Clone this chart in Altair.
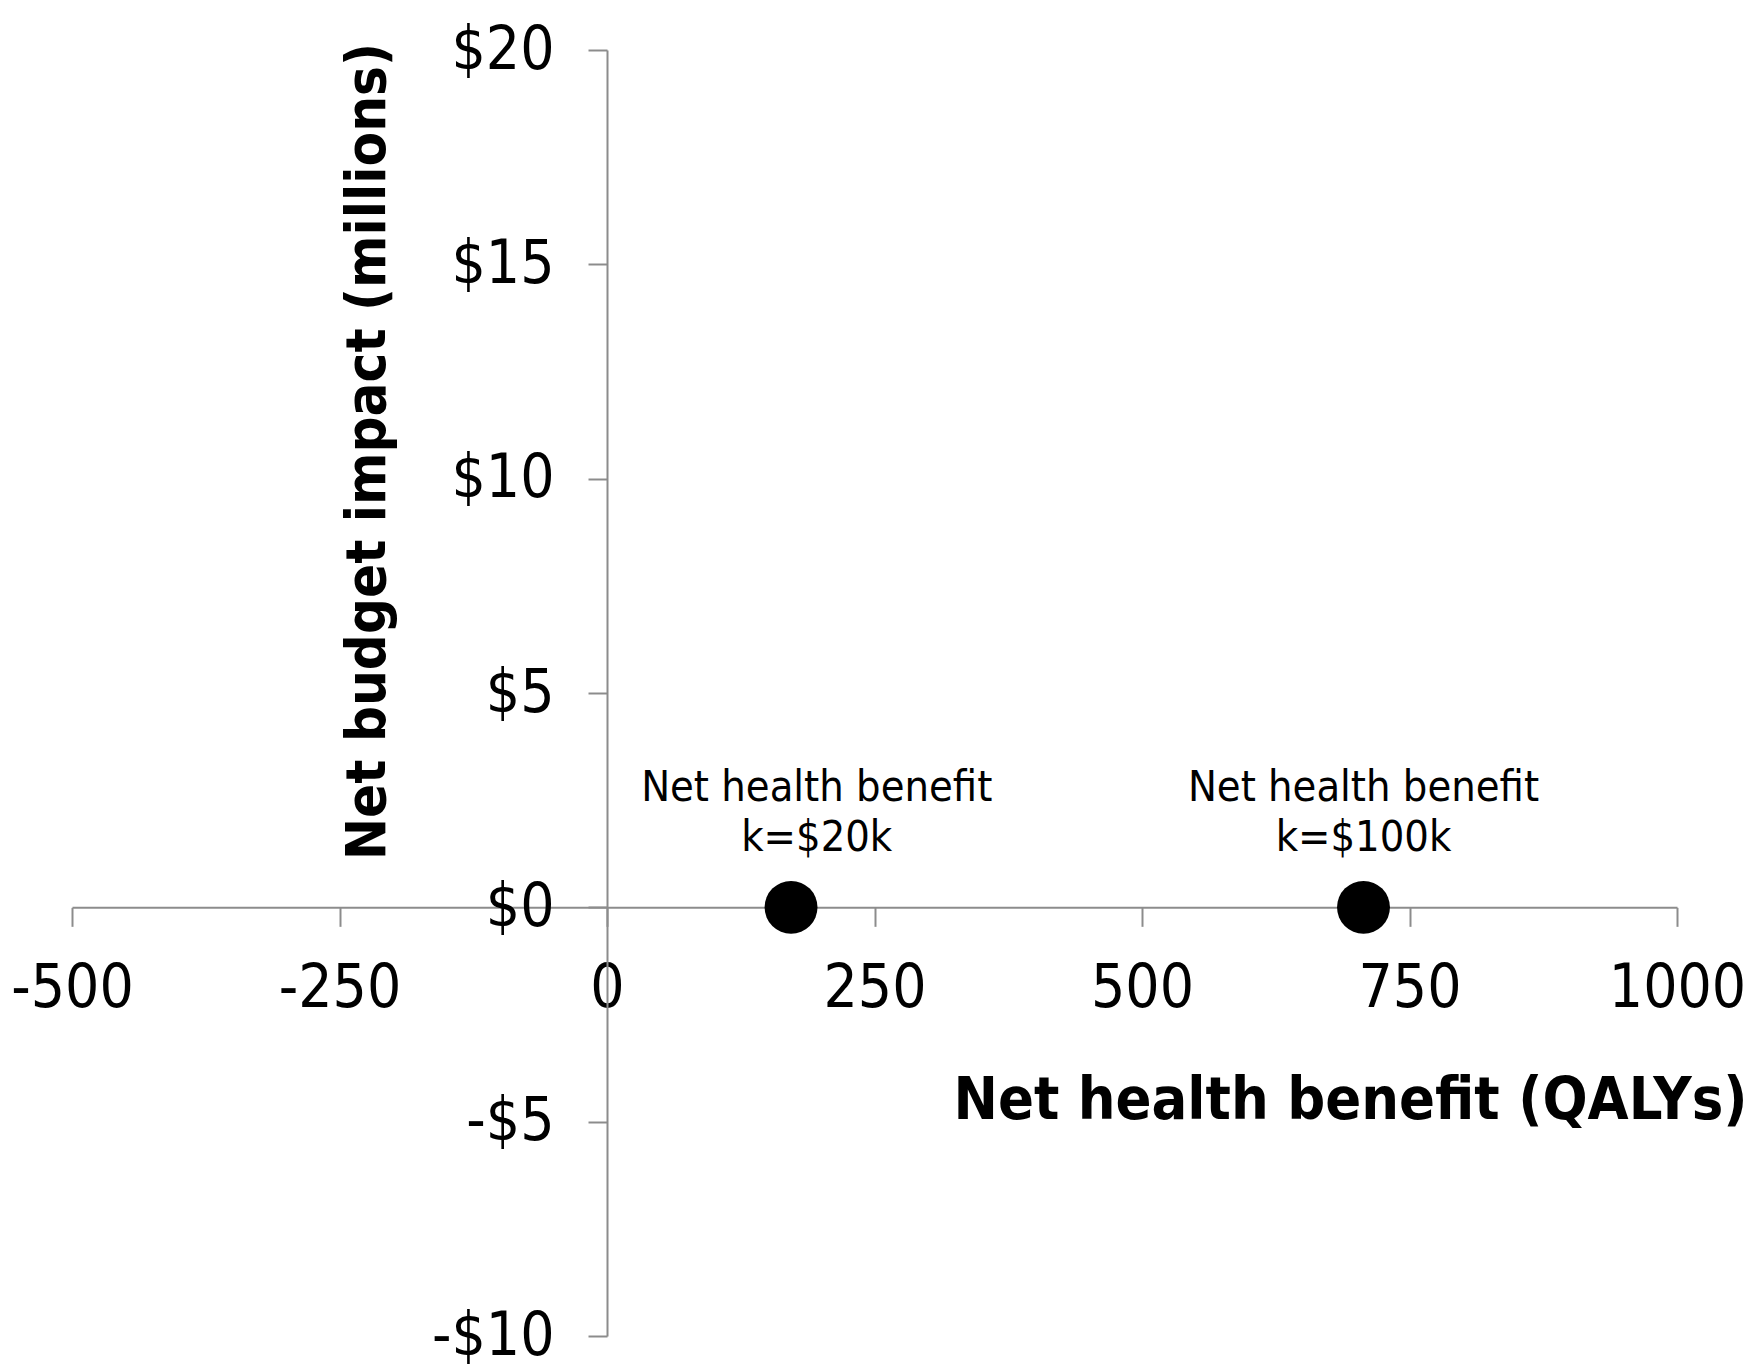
import altair as alt
import pandas as pd

# Data
qaly = [172, 707]
budget = [0, 0]
label_x = [196, 707]
labels = ["Net health benefit\nk=$20k", "Net health benefit\nk=$100k"]
x_ticks = [-500, -250, 0, 250, 500, 750, 1000]
y_ticks = [-10, -5, 0, 5, 10, 15, 20]

df = pd.DataFrame({"qaly": qaly, "budget": budget, "label_x": label_x, "label": labels})

FONT = "DejaVu Sans Condensed"
W, H = 1605, 1286

xscale = alt.Scale(domain=[-500, 1000], nice=False, zero=False)
yscale = alt.Scale(domain=[-10, 20], nice=False, zero=False)

points = alt.Chart(df).mark_circle(size=2800, color="black", opacity=1).encode(
    x=alt.X("qaly:Q", scale=xscale, axis=alt.Axis(
        values=x_ticks, orient="bottom", offset=-H / 3, grid=False,
        domainColor="#8c8c8c", domainWidth=2, tickColor="#8c8c8c", tickWidth=2, tickSize=19,
        labelFont=FONT, labelFontSize=60, labelColor="black", labelPadding=33,
        labelExpr="datum.value < 0 ? '-' + abs(datum.value) : '' + datum.value",
        title="Net health benefit (QALYs)", titleFont=FONT, titleFontSize=59, titleFontWeight="bold",
        titleColor="black", titleX=1278, titleY=193, titleAlign="center", titleBaseline="middle",
        labelFlush=False, labelOverlap=False)),
    y=alt.Y("budget:Q", scale=yscale, axis=alt.Axis(
        values=y_ticks, orient="left", offset=-W / 3, grid=False,
        domainColor="#8c8c8c", domainWidth=2, tickColor="#8c8c8c", tickWidth=2, tickSize=19,
        labelFont=FONT, labelFontSize=60, labelColor="black", labelPadding=34,
        labelExpr="datum.value < 0 ? '-$' + abs(datum.value) : '$' + datum.value",
        title="Net budget impact (millions)", titleFont=FONT, titleFontSize=56, titleFontWeight="bold",
        titleColor="black", titleX=-240, titleY=401, titleAlign="center", titleBaseline="middle",
        titleAngle=270, labelFlush=False, labelOverlap=False)),
)

text = alt.Chart(df).mark_text(
    font=FONT, fontSize=43, color="black", align="center", baseline="middle",
    lineBreak="\n", lineHeight=50, dy=-119,
).encode(
    x=alt.X("label_x:Q", scale=xscale),
    y=alt.Y("budget:Q", scale=yscale),
    text="label:N",
)

chart = alt.layer(points, text).properties(
    width=W, height=H,
    background="white",
    autosize=alt.AutoSizeParams(type="none"),
    padding={"left": 72, "top": 50, "right": 79, "bottom": 33},
).configure_view(stroke="transparent", strokeWidth=0)

chart.save("out.html", embed_options={"renderer": "svg", "actions": False})
